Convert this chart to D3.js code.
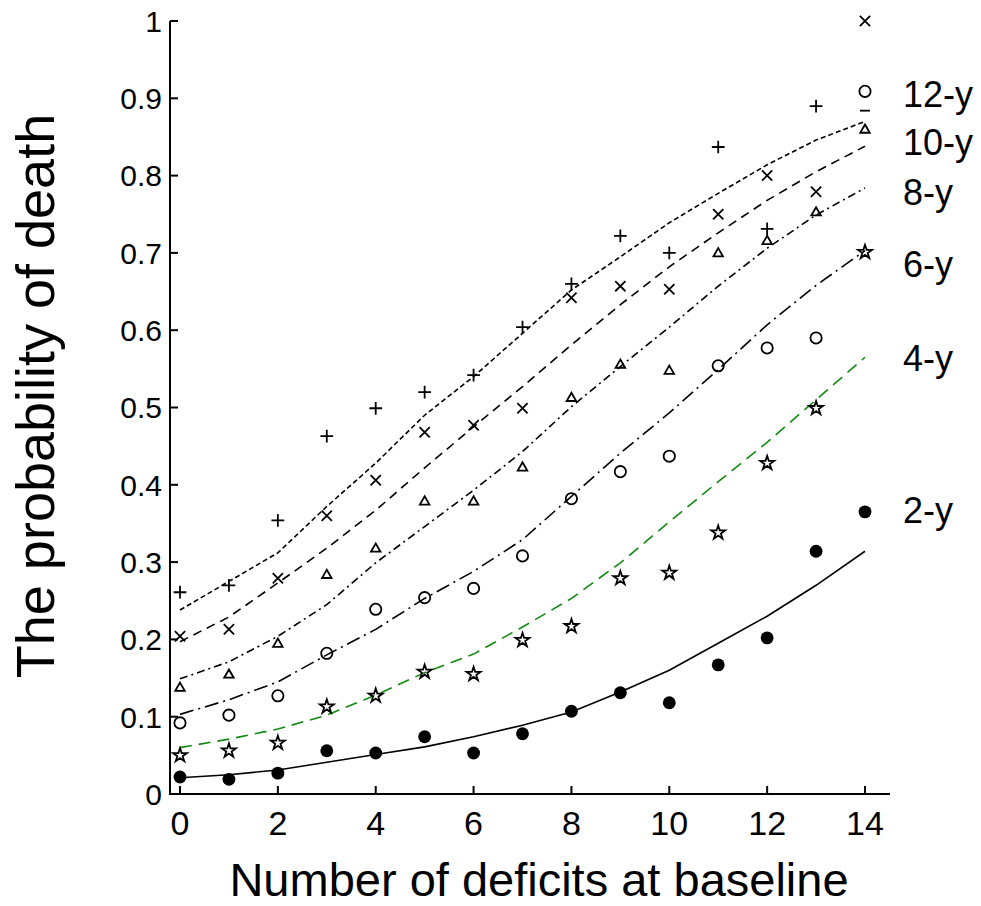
<!DOCTYPE html>
<html>
<head>
<meta charset="utf-8">
<script src="https://cdn.jsdelivr.net/npm/d3@7"></script>
<style>
  body { margin: 0; background: #fff; }
  svg { display: block; font-family: Arial, "Liberation Sans", sans-serif; }
</style>
</head>
<body>
<svg id="chart" width="981" height="906"></svg>
<script>
// ---- data ----
const deficits = [0,1,2,3,4,5,6,7,8,9,10,11,12,13,14];
const xTicks = [0,2,4,6,8,10,12,14];
const yTicks = [0,0.1,0.2,0.3,0.4,0.5,0.6,0.7,0.8,0.9,1];
const yTickLabels = ["0","0.1","0.2","0.3","0.4","0.5","0.6","0.7","0.8","0.9","1"];
const seriesNames = ["2-y","4-y","6-y","8-y","10-y","12-y"];

// observed probabilities (markers)
const obs2y  = [0.022,0.019,0.027,0.056,0.053,0.074,0.053,0.078,0.107,0.131,0.118,0.167,0.202,0.314,0.365];
const obs4y  = [0.050,0.056,0.066,0.113,0.127,0.158,0.155,0.199,0.217,0.279,0.286,0.338,0.428,0.499,0.701];
const obs6y  = [0.092,0.102,0.127,0.182,0.239,0.254,0.266,0.308,0.382,0.417,0.437,0.554,0.577,0.590,0.909];
const obs8y  = [0.137,0.154,0.194,0.283,0.317,0.378,0.378,0.422,0.512,0.555,0.547,0.699,0.715,0.752,0.859];
const obs10y = [0.204,0.213,0.279,0.360,0.406,0.468,0.477,0.499,0.642,0.657,0.653,0.750,0.800,0.779,1.000];
const obs12y = [0.261,0.270,0.354,0.463,0.499,0.520,0.542,0.604,0.660,0.722,0.700,0.837,0.731,0.890,0.884];

// fitted probabilities (lines)
const fit2y  = [0.021,0.025,0.031,0.041,0.051,0.061,0.074,0.089,0.106,0.132,0.160,0.195,0.230,0.270,0.314];
const fit4y  = [0.060,0.071,0.084,0.102,0.128,0.157,0.181,0.216,0.253,0.299,0.352,0.404,0.455,0.510,0.565];
const fit6y  = [0.103,0.122,0.145,0.180,0.213,0.253,0.288,0.329,0.385,0.441,0.493,0.549,0.607,0.658,0.703];
const fit8y  = [0.149,0.171,0.204,0.245,0.299,0.346,0.393,0.443,0.501,0.553,0.604,0.657,0.706,0.749,0.784];
const fit10y = [0.197,0.229,0.273,0.318,0.367,0.422,0.475,0.527,0.581,0.633,0.682,0.726,0.768,0.805,0.838];
const fit12y = [0.238,0.275,0.312,0.372,0.428,0.490,0.540,0.596,0.652,0.695,0.739,0.777,0.814,0.846,0.870];

// ---- styling ----
const styles = [
  {name:"2-y",  obs:obs2y,  fit:fit2y,  marker:"dot",      color:"#000", dash:null,        labelY:523},
  {name:"4-y",  obs:obs4y,  fit:fit4y,  marker:"star",     color:"#108a10", dash:"12,7",   labelY:371},
  {name:"6-y",  obs:obs6y,  fit:fit6y,  marker:"circle",   color:"#000", dash:"14,5,2,5",  labelY:277},
  {name:"8-y",  obs:obs8y,  fit:fit8y,  marker:"triangle", color:"#000", dash:"8,4,2,4",   labelY:205},
  {name:"10-y", obs:obs10y, fit:fit10y, marker:"times",    color:"#000", dash:"9,6",       labelY:155},
  {name:"12-y", obs:obs12y, fit:fit12y, marker:"plus",     color:"#000", dash:"5,3",       labelY:107}
];

const svg = d3.select("#chart");
const x = d3.scaleLinear().domain([0,14]).range([180,865]);
const y = d3.scaleLinear().domain([0,1]).range([794,21]);

// fit lines
const line = d3.line().x((d,i)=>x(deficits[i])).y(d=>y(d));
styles.forEach(s=>{
  svg.append("path").datum(s.fit)
    .attr("d", line)
    .attr("fill","none")
    .attr("stroke", s.color)
    .attr("stroke-width", 1.6)
    .attr("stroke-dasharray", s.dash);
});

// markers
const sym = {
  dot: d3.symbol().type(d3.symbolCircle).size(130)(),
  circle: d3.symbol().type(d3.symbolCircle).size(100)(),
  triangle: d3.symbol().type(d3.symbolTriangle2).size(65)(),
  star: d3.symbol().type(d3.symbolStar).size(60)(),
  times: d3.symbol().type(d3.symbolTimes).size(70)(),
  plus: d3.symbol().type(d3.symbolPlus).size(55)(),
  minus: "M-5,0H5"
};
styles.forEach(s=>{
  svg.append("g").selectAll("path").data(s.obs).join("path")
    .attr("transform",(d,i)=>`translate(${x(deficits[i])},${y(d)})`)
    .attr("d",(d,i)=> (s.marker==="plus" && i===deficits.length-1) ? sym.minus : sym[s.marker])
    .attr("fill", s.marker==="dot" ? "#000" : "none")
    .attr("stroke", "#000")
    .attr("stroke-width", s.marker==="dot" ? 0 : 1.8);
});

// axes
const axis = svg.append("g").attr("stroke","#000").attr("stroke-width",2);
axis.append("line").attr("x1",170).attr("x2",170).attr("y1",y(1)).attr("y2",795);
axis.append("line").attr("x1",169).attr("x2",890).attr("y1",794).attr("y2",794);
axis.selectAll(".yt").data(yTicks).join("line")
  .attr("x1",170).attr("x2",178).attr("y1",d=>y(d)).attr("y2",d=>y(d));
axis.selectAll(".xt").data(xTicks).join("line")
  .attr("x1",d=>x(d)).attr("x2",d=>x(d)).attr("y1",794).attr("y2",786);

svg.selectAll(".ylab").data(yTicks).join("text")
  .attr("x",162).attr("y",d=>y(d)).attr("dy","0.36em")
  .attr("text-anchor","end").attr("font-size",30)
  .text((d,i)=>yTickLabels[i]);
svg.selectAll(".xlab").data(xTicks).join("text")
  .attr("x",d=>x(d)).attr("y",835)
  .attr("text-anchor","middle").attr("font-size",34)
  .text(d=>d);

// series labels
svg.selectAll(".slab").data(styles).join("text")
  .attr("x",903).attr("y",d=>d.labelY)
  .attr("font-size",36).text(d=>d.name);

// axis titles
svg.append("text").attr("x",539).attr("y",896).attr("text-anchor","middle")
  .attr("font-size",47).text("Number of deficits at baseline");
svg.append("text").attr("transform","translate(54,396) rotate(-90)")
  .attr("text-anchor","middle").attr("font-size",54).text("The probability of death");
</script>
</body>
</html>
